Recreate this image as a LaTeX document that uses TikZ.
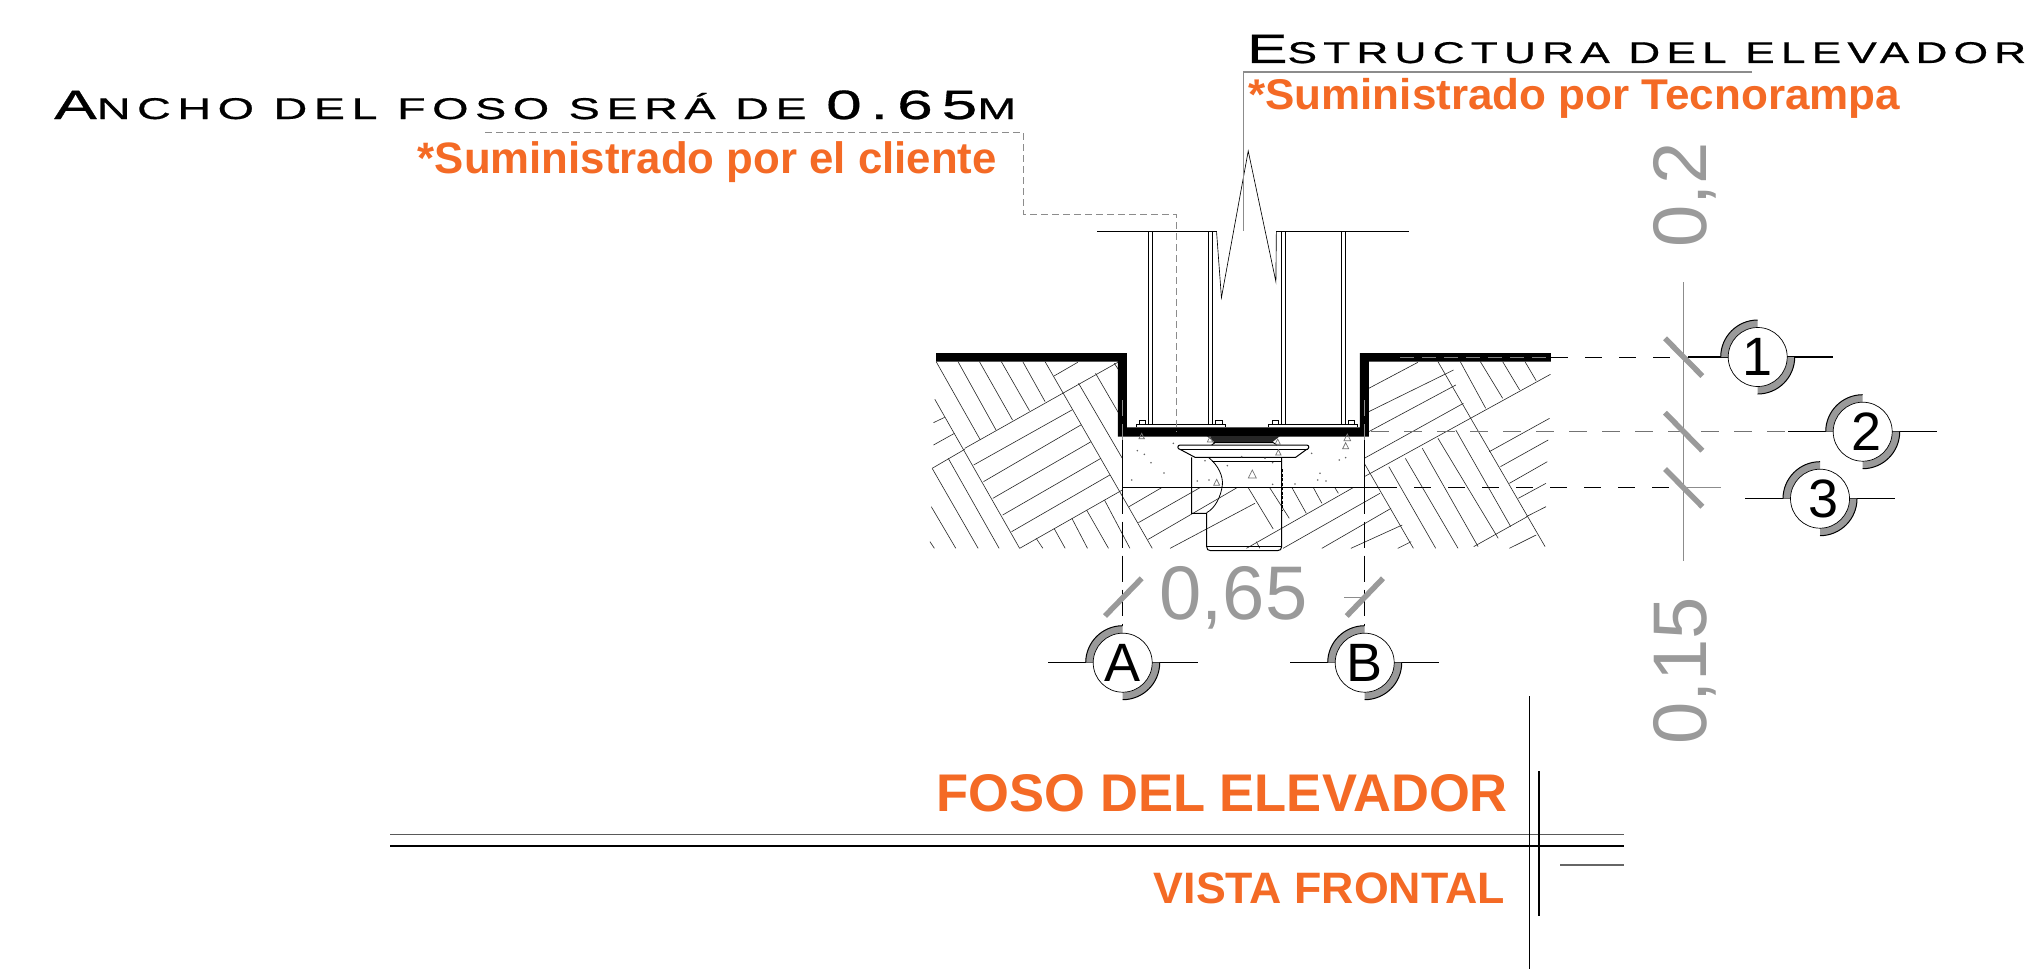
\documentclass[tikz,border=0pt]{standalone}
\usepackage{fontspec}
\usepackage{graphicx}
\setmainfont{Liberation Sans}
\newfontfamily\titlefont[LetterSpace=14,FakeBold=0.6]{Liberation Sans}
\definecolor{orng}{HTML}{F46A25}
\definecolor{dimg}{HTML}{9A9A9A}
\newcommand{\fs}[1]{\fontsize{#1}{#1}\selectfont}
\newcommand{\bigsmall}[2]{{\fs{41}\uppercase{#1}}{\fs{30}\uppercase{#2}}}
\tikzset{
  hatchline/.style={draw=black!85,line width=0.6pt},
  thinline/.style={draw=black,line width=0.65pt},
  orangetext/.style={inner sep=0pt,text=orng,font=\bfseries},
  dimtext/.style={inner sep=0pt,text=dimg,font=\fs{76}},
  titletext/.style={inner sep=0pt,text=black,font=\titlefont},
  tick/.style={draw=dimg,line width=5.5pt},
  leader/.style={draw=black!45,line width=0.9pt},
  marker/.style={circle,draw=black,line width=0.7pt,fill=white,minimum size=59pt,inner sep=0pt,font=\fs{54}},
}
\newcommand{\secmark}[6]{% name, x, y, xleft, xright, label
  \draw[line width=1.5pt] (#4,#3) -- (#5,#3);
  \fill[dimg] (#2,#3-37) arc (-90:-180:37) -- (#2-29.5,#3) arc (-180:-90:29.5) -- cycle;
  \fill[dimg] (#2,#3+37) arc (90:0:37) -- (#2+29.5,#3) arc (0:90:29.5) -- cycle;
  \draw[line width=1pt] (#2,#3-37) arc (-90:-180:37);
  \draw[line width=1pt] (#2,#3+37) arc (90:0:37);
  \node[marker] (#1) at (#2,#3) {#6};
}
\begin{document}
\begin{tikzpicture}[x=1pt,y=-1pt]
\useasboundingbox (0,0) rectangle (2030,969);
\fill[white] (0,0) rectangle (2030,969);

% main detail, coordinates of the 2.24 x 3 enlarged view
\begin{scope}[shift={(900,130)},x=0.44643pt,y=-0.33333pt]
  \foreach \a/\b/\c/\d in {
    81/695/180/930,130/695/215/900,178/695/252/870,227/695/290/842,275/695/325/815,
    325/695/565/1255,145/955/488/697,345/738/398/697,78/808/268/1255,
    75/878/100/862,75/945/122/910,72/1015/145/958,72/1015/175/1255,108/985/222/1255,
    70/1130/125/1255,67/1235/77/1255,
    165/1005/385/840,187/1055/405/885,208/1105/428/935,230/1155/450/985,250/1205/470/1035,268/1255/498/1080,
    305/1225/320/1255,345/1195/370/1255,385/1165/420/1255,418/1140/467/1255,458/1110/515/1255,
    400/760/498/985,438/730/490/850,480/700/490/720,
    513/1130/586/1073,534/1178/672/1073,556/1228/755/1073,605/1255/795/1120,776/1255/1015/1073,858/1255/1075/1090,
    780/1073/836/1197,828/1073/872/1165,878/1073/910/1150,926/1073/945/1120,974/1073/982/1090,798/1235/806/1255,
    1050/775/1160/697,1050/845/1240/720,1050/905/1245/765,1040/985/1262/820,1040/1040/1457/733,
    1205/695/1445/1250,1255/695/1312/835,1300/695/1350/805,1350/695/1388/780,1400/695/1425/752,
    1320/965/1455/865,1345/1010/1452/930,1365/1060/1450/995,1385/1105/1447/1060,1403/1160/1447/1130,
    1285/1250/1405/1160,1365/1255/1425/1215,
    1040/1000/1150/1255,1095/1010/1200/1255,1132/985/1250/1255,1170/955/1295/1250,1205/925/1340/1225,1245/900/1368/1190,
    945/1255/1100/1135,1010/1255/1125/1185,1115/1255/1145/1235}
    {\draw[hatchline] (\a,\b) -- (\c,\d);}
  % columns
  \draw[thinline] (442,304) -- (710,304) (843,304) -- (1140,304);
  \foreach \x in {557,566,691,700,854,863,988,997} {\draw[thinline] (\x,304) -- (\x,885);}
  \draw[thinline] (530,892) -- (530,883) -- (728,883) -- (728,892);
  \draw[thinline] (825,892) -- (825,883) -- (1025,883) -- (1025,892);
  \foreach \x in {543,714,840,1011} {\draw[thinline,fill=white] (\x-7,883) rectangle (\x+7,871);}
  \draw[thinline] (709,304) -- (720,503) -- (780,63) -- (842,455) -- (843,304);
  % shell
  \fill[black] (81,669) -- (508,669) -- (508,892) -- (1030,892) -- (1030,669) -- (1458,669) -- (1458,695)
     -- (1050,695) -- (1050,920) -- (488,920) -- (488,695) -- (81,695) -- cycle;
  % slab
  \draw[line width=0.9pt] (498,920) -- (498,1073);
  \draw[line width=0.9pt] (1040,920) -- (1040,1073);
  \draw[line width=0.9pt] (498,1073) -- (1075,1073);
\end{scope}

% anchor, bolt, enlarged 3x view
\begin{scope}[shift={(1090,400)},x=0.33333pt,y=-0.33333pt]
  \fill[black!85] (350,108) -- (570,108) -- (545,128) -- (375,128) -- cycle;
  \draw[line width=1pt,fill=white] (275,135) -- (650,135) arc (-90:90:6.5) -- (617,172) -- (315,172) -- (270,148) arc (90:270:6.5) -- cycle;
  \draw[line width=0.9pt] (272,148) -- (655,148);
  \draw[line width=0.9pt] (370,128) -- (550,128) (365,135) -- (375,128) (560,135) -- (550,128);
  \draw[line width=1pt] (305,172) -- (305,340) -- (350,340) -- (350,440) .. controls (350,448) and (354,452) .. (362,452)
     -- (562,452) .. controls (570,452) and (575,448) .. (575,440) -- (575,172);
  \draw[line width=0.8pt] (355,172) .. controls (385,195) and (400,230) .. (397,255) .. controls (393,290) and (375,325) .. (350,338);
  \draw[line width=0.8pt] (365,183) -- (575,183) (350,440) -- (575,440);
  \draw[line width=1.8pt,dash pattern=on 3pt off 1.5pt] (575,208) -- (575,332);
  \foreach \x/\y/\r in {487/222/12,380/247/9,565/157/8,767/137/9,772/112/10,155/108/8,360/118/8,563/125/8}
    {\draw[black!55,line width=0.7pt] (\x,\y-\r) -- (\x+\r,\y+\r) -- (\x-\r,\y+\r) -- cycle;}
  \foreach \x/\y in {142/152,163/163,183/188,222/219,125/240,250/130,412/197,322/243,357/240,345/182,
     548/188,615/252,548/253,690/220,683/240,708/243,748/180,767/173,665/160,525/175,455/170}
    {\fill[black!60] (\x,\y) circle (0.9pt);}
\end{scope}

% dashed level and axis lines
\draw[draw=black,line width=0.8pt,dash pattern=on 17pt off 17pt] (1551,357) -- (1688,357);
\draw[draw=black!50,line width=1pt,dash pattern=on 14pt off 8pt] (1400,357) -- (1551,357);
\draw[draw=black!55,line width=1.4pt,dash pattern=on 18pt off 15pt] (1371,431.7) -- (1788,431.7);
\draw[draw=black,line width=0.8pt,dash pattern=on 17pt off 17pt] (1380,487.7) -- (1683,487.7);
\draw[draw=black!45,line width=0.7pt] (1683,487.7) -- (1721,487.7);
\draw[draw=black,line width=0.8pt,dash pattern=on 26pt off 8pt] (1122.7,487.7) -- (1122.7,626);
\draw[draw=black,line width=0.8pt,dash pattern=on 26pt off 8pt] (1364.7,487.7) -- (1364.7,626);
\draw[draw=black!45,line width=0.7pt,dash pattern=on 16pt off 8pt] (1122.7,400) -- (1122.7,440);
\draw[draw=black!45,line width=0.7pt,dash pattern=on 16pt off 8pt] (1364.7,400) -- (1364.7,440);
\draw[draw=black!45,line width=0.7pt] (1683.3,282) -- (1683.3,561);
\draw[draw=black!45,line width=0.7pt] (1344,597.3) -- (1364.7,597.3);

% ticks
\draw[tick] (1665,338.3) -- (1702.3,376);
\draw[tick] (1665,412.7) -- (1702.3,450.7);
\draw[tick] (1665,469) -- (1702.3,506.7);
\draw[tick] (1105,616) -- (1141.7,578.3);
\draw[tick] (1346.7,616) -- (1383,578.3);

% section markers
\secmark{m1}{1757.7}{357}{1688}{1832.7}{1}
\secmark{m2}{1862.7}{431.7}{1788}{1937}{\hspace*{7pt}2}
\secmark{m3}{1820}{498.7}{1745}{1895}{\hspace*{7pt}3}
\secmark{mA}{1122.7}{662.7}{1048}{1197.7}{A}
\secmark{mB}{1364.7}{662.7}{1290}{1439}{B}

% dimensions
\node[dimtext,anchor=base] (d65) at (1233.5,619) {0,65};
\node[dimtext,anchor=base,rotate=90] (d02) at (1706,195) {0,2};
\node[dimtext,anchor=base,rotate=90] (d015) at (1706,671) {0,15};

% titles
\node[titletext,anchor=base west] (t1) at (1247,63) {\resizebox{779pt}{\height}{\bigsmall{E}{structura del elevador}}};
\node[titletext,anchor=base west] (t2) at (54,119) {\resizebox{962pt}{\height}{\bigsmall{A}{ncho del foso será de }{\fs{41}0.65}{\fs{30}\uppercase{m}}}};
\node[orangetext,anchor=base west] (o1) at (1248,109) {\resizebox{652pt}{\height}{\fs{43}*Suministrado por Tecnorampa}};
\node[orangetext,anchor=base east] (o2) at (997,173.3) {\resizebox{579pt}{\height}{\fs{44}*Suministrado por el cliente}};
\node[orangetext,anchor=base east] (o3) at (1508,811) {\resizebox{571pt}{\height}{\fs{53}FOSO DEL ELEVADOR}};
\node[orangetext,anchor=base east] (o4) at (1505,903) {\resizebox{351pt}{\height}{\fs{44}VISTA FRONTAL}};

% leaders
\coordinate (la) at (1752,72);
\coordinate (lb) at (1243.7,72);
\coordinate (lc) at (1243.7,231);
\draw[leader,line width=1.2pt] (la) -- (lb) -- (lc);
\coordinate (da) at (485,132);
\coordinate (db) at (1023,132);
\coordinate (dc) at (1023,214);
\coordinate (dd) at (1176,214);
\coordinate (de) at (1176,432);
\draw[leader,dash pattern=on 7pt off 4pt] (da) -- (db) -- (dc) -- (dd) -- (de);

% title rules
\draw[draw=black!65,line width=1.4pt] (390,834.7) -- (1624,834.7);
\draw[line width=2.4pt] (390,846) -- (1624,846);
\draw[line width=0.8pt] (1529,696) -- (1529,969);
\draw[line width=1.6pt] (1539,771) -- (1539,915.7);
\draw[draw=black!60,line width=1.2pt] (1560,865) -- (1624,865);
\end{tikzpicture}
\end{document}
